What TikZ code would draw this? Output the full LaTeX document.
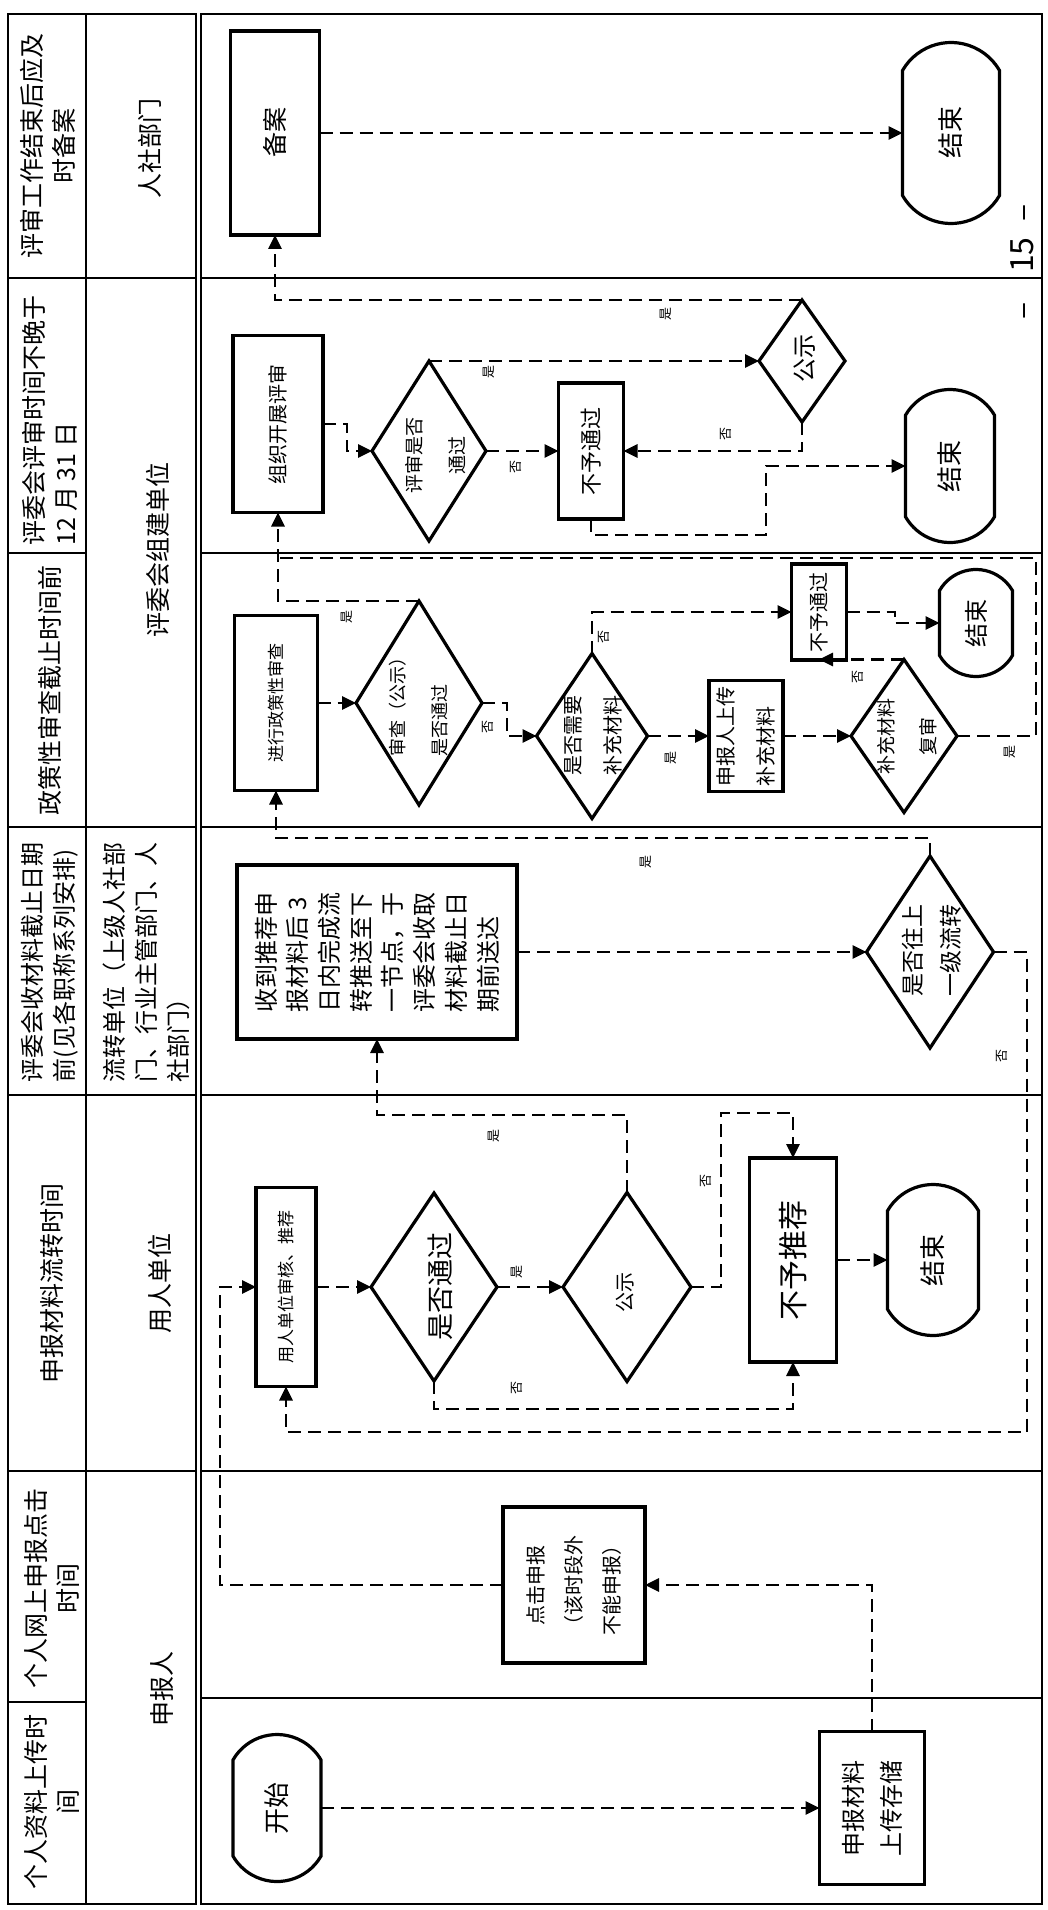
\documentclass[tikz,border=0pt]{standalone}
\usepackage{fontspec}
\setmainfont{Noto Sans CJK SC}
\usetikzlibrary{shapes.geometric,shapes.misc,arrows.meta}
\newcommand{\setfs}[2]{\fontsize{#1}{#2}\selectfont}
\tikzset{
  every node/.style={rotate=90, inner sep=0pt, outer sep=0pt},
  box/.style={draw, line width=1.7pt, rectangle},
  dia/.style={draw, line width=1.6pt, diamond},
  term/.style={draw, line width=1.6pt, rounded rectangle, rounded rectangle arc length=120},
  conn/.style={line width=1.45pt, dash pattern=on 6.5pt off 3.5pt, -{Triangle[length=7pt,width=6.5pt]}},
  link/.style={line width=1.45pt, dash pattern=on 6.5pt off 3.5pt},
  lab/.style={font=\setfs{6.5}{7}},
  lane/.style={line width=1pt},
  hd/.style={font=\setfs{12.5}{16}},
}
\begin{document}
\begin{tikzpicture}[x=0.5pt, y=-0.5pt, font=\setfs{12}{15}]
\useasboundingbox (0,0) rectangle (1048,1910);
% ---------- frames ----------
\draw[lane] (8,14) rectangle (196,1904);
\draw[lane] (201,14) rectangle (1042,1904);
\draw[lane] (86,14) -- (86,1904);
\foreach \yy in {278,553,827,1095,1471,1702} \draw[lane] (8,\yy) -- (86,\yy);
\foreach \yy in {278,827,1095,1471} \draw[lane] (86,\yy) -- (196,\yy);
\foreach \yy in {278,553,827,1095,1471,1698} \draw[lane] (201,\yy) -- (1042,\yy);
% ---------- header texts ----------
\node[hd, align=center] (h1) at (48,146) {评审工作结束后应及\\时备案};
\node[hd, align=left] (h2) at (50,420) {评委会评审时间不晚于\\12 月 31 日};
\node[hd] (h3) at (50,690) {政策性审查截止时间前};
\node[hd, align=left, font=\setfs{12}{16}] (h4) at (50,962) {评委会收材料截止日期\\前(见各职称系列安排)};
\node[hd] (h5) at (52,1283) {申报材料流转时间};
\node[hd, align=center] (h6) at (52,1588) {个人网上申报点击\\时间};
\node[hd, align=center] (h7) at (52,1802) {个人资料上传时\\间};
\node[hd] (c1) at (150,149) {人社部门};
\node[hd] (c2) at (158,550) {评委会组建单位};
\node[hd, align=left, font=\setfs{12}{16}] (c4) at (146,962) {流转单位（上级人社部\\门、行业主管部门、人\\社部门）};
\node[hd] (c5) at (160,1283) {用人单位};
\node[hd] (c6) at (162,1689) {申报人};
% ---------- lane 1 ----------
\node[box, minimum width=102pt, minimum height=44.5pt, font=\setfs{12.5}{15}] (ba) at (275,133) {备案};
\node[term, minimum width=90.5pt, minimum height=48.5pt, font=\setfs{13}{15}] (e1) at (951,133) {结束};
% ---------- lane 2 ----------
\node[box, minimum width=88.5pt, minimum height=45pt, font=\setfs{10}{12}] (zz) at (278,424) {组织开展评审};
\node[dia, minimum width=90pt, minimum height=57pt] (ps) at (429,451) {};
\node[align=center, font=\setfs{9.5}{21.5}] (pst) at (436,455) {评审是否\\通过};
\node[box, minimum width=68pt, minimum height=32.5pt, font=\setfs{11}{13}] (bt2) at (591,451) {不予通过};
\node[dia, minimum width=61pt, minimum height=43pt] (gs2) at (802,361) {};
\node[font=\setfs{12}{14}] (gs2t) at (805,358) {公示};
\node[term, minimum width=76.5pt, minimum height=44.5pt, font=\setfs{13}{15}] (e2) at (950,466) {结束};
% ---------- lane 3 ----------
\node[box, minimum width=87.5pt, minimum height=41.5pt, font=\setfs{8.5}{10}] (zc) at (276,703) {进行政策性审查};
\node[dia, minimum width=102pt, minimum height=63pt] (sc) at (419,703) {};
\node[align=left, font=\setfs{9}{21}] (sct) at (419,702) {审查（公示）\\是否通过};
\node[dia, minimum width=82.5pt, minimum height=55.5pt] (xy) at (592,736) {};
\node[align=center, font=\setfs{10}{20}] (xyt) at (593,735) {是否需要\\补充材料};
\node[box, minimum width=55.5pt, minimum height=37pt, align=left, font=\setfs{10}{20}] (sb) at (746,736) {申报人上传\\补充材料};
\node[dia, minimum width=76.5pt, minimum height=53pt] (fs) at (904,736) {};
\node[align=center, font=\setfs{9.5}{21}] (fst) at (907,736) {补充材料\\复审};
\node[box, minimum width=48pt, minimum height=27.5pt, font=\setfs{10}{12}] (bt3) at (819,612) {不予通过};
\node[term, minimum width=53.5pt, minimum height=36.5pt, font=\setfs{12}{14}] (e3) at (976,623) {结束};
% ---------- lane 4 ----------
\node[box, minimum width=87pt, minimum height=140pt, align=left, font=\setfs{12}{15.85}] (sd) at (377,952) {收到推荐申\\报材料后 3\\日内完成流\\转推送至下\\一节点，于\\评委会收取\\材料截止日\\期前送达};
\node[dia, minimum width=96pt, minimum height=63.5pt] (sw) at (930,952) {};
\node[align=center, font=\setfs{11.5}{19}] (swt) at (932,950) {是否往上\\一级流转};
% ---------- lane 5 ----------
\node[box, minimum width=99.5pt, minimum height=30pt, font=\setfs{8.5}{10}] (yr) at (286,1287) {用人单位审核、推荐};
\node[dia, minimum width=94pt, minimum height=63pt] (tg) at (434,1287) {};
\node[font=\setfs{13.5}{15}] (tgt) at (440,1286) {是否通过};
\node[dia, minimum width=94.5pt, minimum height=64pt] (gs5) at (627,1287) {};
\node[font=\setfs{10}{12}] (gs5t) at (625,1292) {公示};
\node[box, minimum width=102pt, minimum height=43.5pt, font=\setfs{15}{17}] (bt5) at (793,1260) {不予推荐};
\node[term, minimum width=75.5pt, minimum height=45.5pt, font=\setfs{13}{15}] (e5) at (933,1260) {结束};
% ---------- lane 6 / 7 ----------
\node[box, minimum width=78pt, minimum height=71pt, align=center, font=\setfs{10}{19}] (dj) at (574,1585) {点击申报\\（该时段外\\不能申报）};
\node[term, minimum width=73.5pt, minimum height=44pt, font=\setfs{13}{15}] (ks) at (277,1808) {开始};
\node[box, minimum width=76.5pt, minimum height=52.5pt, align=left, font=\setfs{12}{19}] (cc) at (872,1808) {申报材料\\上传存储};
% ---------- connectors ----------
\draw[conn] (ba.south) -- (e1.north);
\draw[conn] (zz.south) -- (347,424) |- (ps.north);
\draw[conn] (ps.east) -- (gs2.north);
\draw[conn] (ps.south) -- (bt2.north);
\draw[conn] (gs2.west) |- (bt2.south);
\draw[conn] (gs2.east) -| (ba.west);
\draw[conn] (bt2.west) -- (591,535) -| (766,466) -- (e2.north);
\draw[conn] (zc.south) -- (sc.north);
\draw[conn] (sc.south) -- (507,703) |- (xy.north);
\draw[conn] (sc.east) -| (zz.west);
\draw[link] (fs.south) -- (1036,736) -- (1036,558) -- (278,558);
\draw[conn] (xy.south) -- (sb.north);
\draw[conn] (sb.south) -- (fs.north);
\draw[conn] (xy.east) |- (bt3.north);
\draw[conn] (fs.east) -- (fs.east -| bt3.center);
\draw[conn] (bt3.south) -- (895,612) |- (e3.north);
\draw[conn] (sd.south) -- (sw.north);
\draw[conn] (sw.east) -- (930,838) -| (zc.west);
\draw[conn] (sw.south) -| (1027,1432) -| (yr.west);
\draw[conn] (yr.south) -- (tg.north);
\draw[conn] (tg.south) -- (gs5.north);
\draw[conn] (gs5.east) -- (627,1115) -| (sd.west);
\draw[conn] (gs5.south) -| (721,1113) -| (bt5.east);
\draw[conn] (tg.west) -- (434,1409) -| (bt5.west);
\draw[conn] (bt5.south) -- (e5.north);
\draw[conn] (dj.north) -| (220,1287) -- (yr.north);
\draw[conn] (ks.south) -- (cc.north);
\draw[conn] (cc.east) |- (dj.south);
% ---------- labels ----------
\node[lab] (l1) at (489,372) {是};
\node[lab] (l2) at (516,467) {否};
\node[lab] (l3) at (726,434) {否};
\node[lab] (l4) at (666,314) {是};
\node[lab] (l5) at (347,617) {是};
\node[lab] (l6) at (488,727) {否};
\node[lab] (l7) at (604,637) {否};
\node[lab] (l8) at (671,758) {是};
\node[lab] (l9) at (858,677) {否};
\node[lab] (l10) at (1010,752) {是};
\node[lab] (l11) at (646,862) {是};
\node[lab] (l12) at (1002,1056) {否};
\node[lab] (l13) at (494,1136) {是};
\node[lab] (l14) at (517,1272) {是};
\node[lab] (l15) at (706,1181) {否};
\node[lab] (l16) at (517,1388) {否};
\node[font=\setfs{16}{18}] (pg) at (1022,262) {–\hspace{15pt}15\hspace{8pt}–};
\end{tikzpicture}
\end{document}
